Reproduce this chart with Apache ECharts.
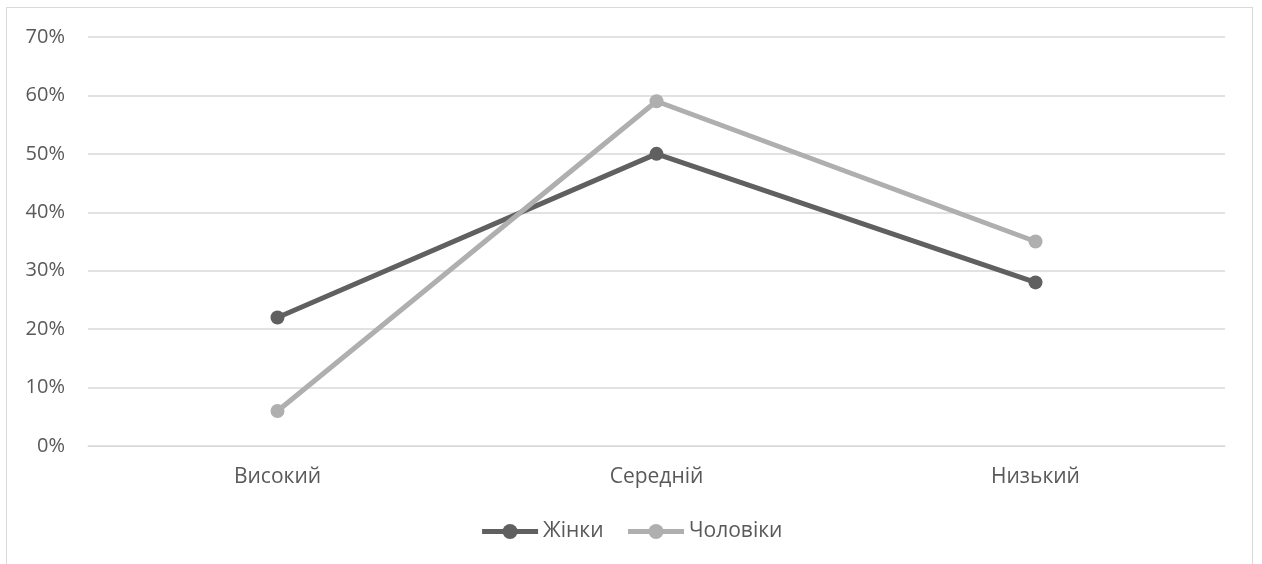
<!DOCTYPE html>
<html>
<head>
<meta charset="utf-8">
<script src="https://cdn.jsdelivr.net/npm/echarts@6/dist/echarts.min.js"></script>
<style>
  html, body { margin: 0; padding: 0; background: #fff; }
  #frame { position: absolute; left: 6px; top: 7px; width: 1247px; height: 570px; border: 1px solid #d9d9d9; box-sizing: border-box; }
  #chart { width: 1262px; height: 564px; }
</style>
</head>
<body>
<div id="frame"></div>
<div id="chart"></div>
<script>
// Levels and shares by gender
const categories = ['Високий', 'Середній', 'Низький'];
const women = [0.22, 0.50, 0.28];
const men = [0.06, 0.59, 0.35];
const seriesNames = ['Жінки', 'Чоловіки'];
const colors = ['#606060', '#afafaf'];

const chart = echarts.init(document.getElementById('chart'));
const font = '"Open Sans", "Noto Sans", sans-serif';
chart.setOption({
  backgroundColor: 'transparent',
  animation: false,
  grid: { left: 88, right: 37, top: 37, bottom: 118 },
  legend: {
    data: seriesNames.map((n, i) => ({
      name: n,
      lineStyle: { color: colors[i], width: 5 },
      itemStyle: { color: colors[i] }
    })),
    bottom: 17,
    left: 'center',
    itemWidth: 56,
    itemHeight: 19,
    itemGap: 22,
    itemSymbolGap: 4,
    textStyle: { color: '#595959', fontSize: 21, fontFamily: font }
  },
  xAxis: {
    type: 'category',
    data: categories,
    boundaryGap: true,
    axisLine: { show: true, lineStyle: { color: '#d9d9d9', width: 1 } },
    axisTick: { show: false },
    axisLabel: { color: '#595959', fontSize: 21, fontFamily: font, margin: 21 }
  },
  yAxis: {
    type: 'value',
    min: 0,
    max: 0.7,
    interval: 0.1,
    axisLine: { show: false },
    axisTick: { show: false },
    splitLine: { lineStyle: { color: '#d9d9d9', width: 1.5 } },
    axisLabel: {
      color: '#595959', fontSize: 20, fontFamily: font, margin: 23,
      formatter: v => Math.round(v * 100) + '%'
    }
  },
  series: [
    {
      name: seriesNames[0], type: 'line', data: women,
      symbol: 'circle', symbolSize: 14,
      lineStyle: { color: colors[0], width: 5 },
      itemStyle: { color: colors[0] }
    },
    {
      name: seriesNames[1], type: 'line', data: men,
      symbol: 'circle', symbolSize: 14,
      lineStyle: { color: colors[1], width: 5 },
      itemStyle: { color: colors[1] }
    }
  ]
});
</script>
</body>
</html>
